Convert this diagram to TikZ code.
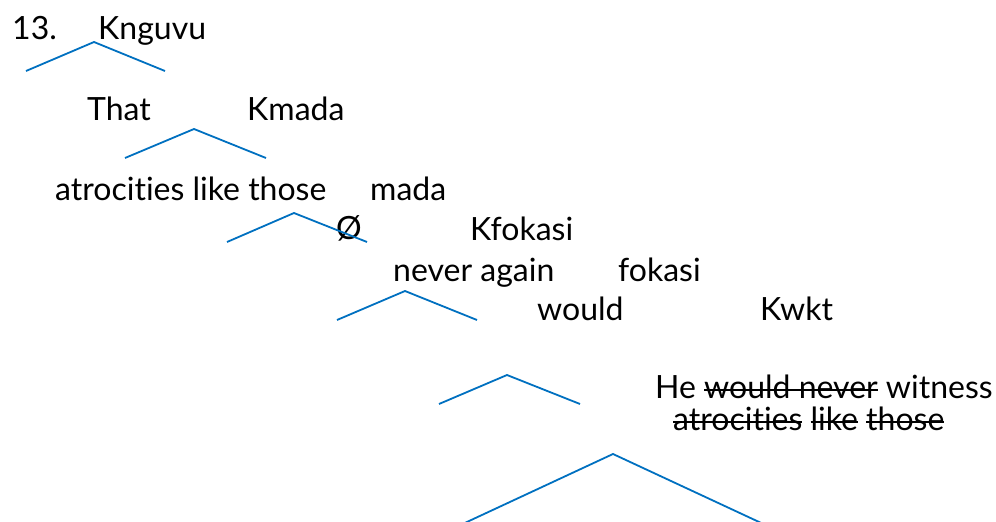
\documentclass[tikz,border=0pt]{standalone}
\usepackage{fontspec}
\setmainfont[Ligatures={NoCommon}]{Lato}
\newlength\stklen
\newcommand\stk[1]{\settowidth{\stklen}{#1}\rlap{\rule[0.23em]{\stklen}{1.7pt}}#1}
\definecolor{treeblue}{HTML}{0070C0}
\begin{document}
\begin{tikzpicture}[x=1pt,y=-1pt,
  lbl/.style={anchor=base west,inner sep=0pt,font=\fontsize{32}{38}\selectfont},
  branch/.style={draw=treeblue,line width=1.8pt}]
\useasboundingbox (0,0) rectangle (996,522);
% labels
\node[lbl] (n13) at (12,39) {13.};
\node[lbl] (knguvu) at (98,39) {Knguvu};
\node[lbl] (that) at (87,120) {That};
\node[lbl] (kmada) at (247,120) {Kmada};
\node[lbl] (atro) at (55,200) {atrocities like those};
\node[lbl] (mada) at (370,200) {mada};
\node[lbl] (empty) at (336,239) {Ø};
\node[lbl] (kfokasi) at (470,240) {Kfokasi};
\node[lbl] (never) at (393,281) {never again};
\node[lbl] (fokasi) at (618,281) {fokasi};
\node[lbl] (would) at (537,320) {would};
\node[lbl] (kwkt) at (760,320) {Kwkt};
\node[lbl] (he) at (655,398) {He \stk{would never} witness};
\node[lbl] (atro2) at (673,430) {\stk{atrocities} \stk{like} \stk{those}};
% branches
\coordinate (p1) at (94,42);  \coordinate (l1) at (26,71);  \coordinate (r1) at (165,71);
\coordinate (p2) at (194,129); \coordinate (l2) at (125,158); \coordinate (r2) at (266,158);
\coordinate (p3) at (294,213); \coordinate (l3) at (227,242); \coordinate (r3) at (367,242);
\coordinate (p4) at (405,291); \coordinate (l4) at (337,320); \coordinate (r4) at (477,320);
\coordinate (p5) at (507,375); \coordinate (l5) at (439,404); \coordinate (r5) at (580,404);
\coordinate (p6) at (613,454); \coordinate (l6) at (454,528); \coordinate (r6) at (772,528);
\foreach \i in {1,...,6}{\draw[branch] (l\i) -- (p\i) -- (r\i);}
\end{tikzpicture}
\end{document}
